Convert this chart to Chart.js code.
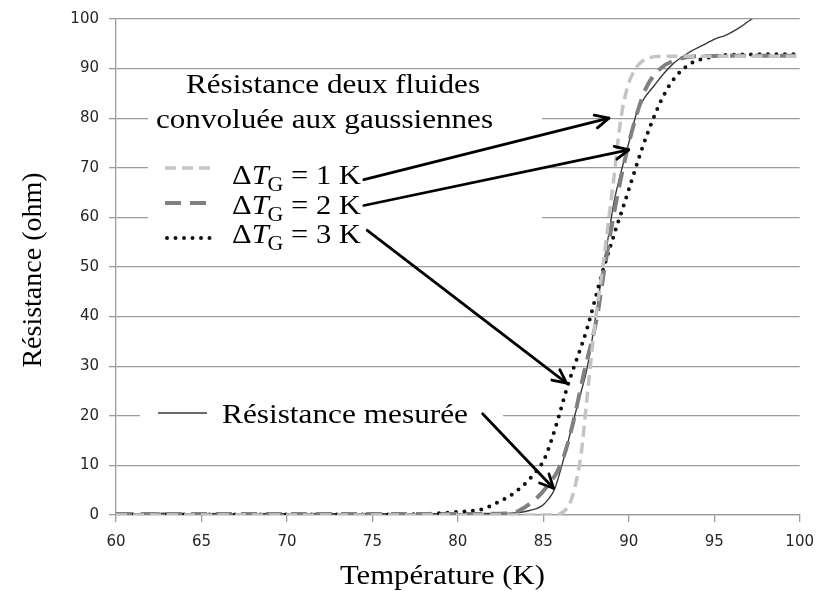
<!DOCTYPE html>
<html><head><meta charset="utf-8">
<script src="https://cdn.jsdelivr.net/npm/chart.js@4/dist/chart.umd.min.js"></script>
<style>html,body{margin:0;padding:0;background:#fff;}canvas{display:block;}</style>
</head><body>
<canvas id="c" width="825" height="598"></canvas>
<script>
// ---- data ----
const xTicks = [60, 65, 70, 75, 80, 85, 90, 95, 100];
const yTicks = [0, 10, 20, 30, 40, 50, 60, 70, 80, 90, 100];

const measTemp = [60, 61.5, 63, 64.5, 66, 67.5, 69, 70.5, 72, 73.5, 75, 76.5, 78, 79.5, 81, 82.5, 83.5, 84.2, 84.9, 85.3, 85.66, 86.07, 86.45, 86.82, 87.2, 87.57, 88.09, 88.44, 88.8, 89.13, 89.5, 90.0, 90.46, 90.9, 91.45, 92.0, 92.6, 93.5, 94.5, 95.2, 95.6, 96.5, 97.2, 98.0, 99.0, 100];
const measRes  = [0.3, 0.2, 0.35, 0.2, 0.3, 0.15, 0.3, 0.25, 0.3, 0.2, 0.3, 0.2, 0.3, 0.25, 0.3, 0.3, 0.45, 0.9, 1.8, 3.2, 5.2, 9.8, 14.8, 19.8, 24.7, 29.7, 40.5, 48.7, 56, 63, 68.5, 75, 81, 84, 86.4, 88.8, 91, 93.2, 95, 96.2, 96.6, 98.3, 100, 101.3, 102.8, 104.3];

const g1Temp = [60, 84, 85.5, 86, 86.5, 86.8, 87.2, 87.6, 88.0, 88.44, 88.84, 89.13, 89.5, 89.9, 90.4, 90.8, 91.1, 92, 100];
const g1Res  = [0, 0, 0.05, 0.3, 2, 5, 12, 25, 38, 49, 60, 68, 79, 86, 90, 91.5, 92.1, 92.5, 92.5];

const g2Temp = [60, 80, 82, 83, 83.53, 84.3, 85.09, 86.07, 86.7, 87.4, 88.15, 88.55, 89.2, 89.8, 90.4, 91, 91.85, 93, 94, 100];
const g2Res  = [0.2, 0.2, 0.25, 0.4, 0.8, 2.5, 5.2, 10.6, 18, 29, 40, 49, 62, 72, 80, 86, 90, 92, 92.5, 92.6];

const g3Temp = [60, 76, 78, 79, 79.88, 81.45, 82.37, 83.35, 84.34, 85.09, 85.7, 86.42, 87.57, 88.44, 89.25, 89.71, 91.04, 92.2, 93.35, 94.9, 96, 100];
const g3Res  = [0.1, 0.1, 0.2, 0.35, 0.6, 1.2, 2.6, 4.6, 7.8, 11.5, 17.5, 26, 37.7, 48.7, 57.7, 62.5, 76.4, 85.6, 90.4, 92.4, 92.8, 92.9];

const deltaLabels = ['1', '2', '3'];
const arrowFrom = [[74.5, 67.6], [74.5, 62.4], [74.7, 57.4], [81.45, 20.4]];
const arrowTo   = [[88.84, 80], [90.0, 73.6], [86.36, 26.6], [85.6, 5.4]];

// ---- styles ----
const SERIF = '"Liberation Serif","Times New Roman",serif';
const SANS = '"DejaVu Sans", Verdana, sans-serif';
const GRID = '#9c9c9c';
const S1 = {color: '#c4c4c4', width: 3.5, dash: [11, 6], cap: 'butt'};
const S2 = {color: '#808080', width: 4, dash: [16, 9], cap: 'butt'};
const S3 = {color: '#111111', width: 4, dash: [0, 8.5], cap: 'round'};
const SM = {color: '#3a3a3a', width: 1.4, dash: [], cap: 'butt'};

function pts(xs, ys) { return xs.map((x, i) => ({x: x, y: ys[i]})); }
function ds(label, xs, ys, s) {
  return {label, data: pts(xs, ys), showLine: true, pointRadius: 0, pointHoverRadius: 0,
    borderColor: s.color, borderWidth: s.width, borderDash: s.dash, borderCapStyle: s.cap,
    cubicInterpolationMode: 'monotone', fill: false};
}

function stretchText(ctx, text, x0, x1, y) {
  const w = ctx.measureText(text).width;
  ctx.save(); ctx.translate(x0, y); ctx.scale((x1 - x0) / w, 1);
  ctx.textAlign = 'left'; ctx.textBaseline = 'alphabetic';
  ctx.fillText(text, 0, 0); ctx.restore();
}
function drawDelta(ctx, n, x0, x1, y) {
  const big = '28px ' + SERIF, it = 'italic 28px ' + SERIF, sub = '20px ' + SERIF;
  const parts = [['Δ', big, 0], ['T', it, 0], ['G', sub, 7], [' = ' + n + ' K', big, 0]];
  let tot = 0; const ws = [];
  parts.forEach(p => { ctx.font = p[1]; const w = ctx.measureText(p[0]).width; ws.push(w); tot += w; });
  ctx.save(); ctx.translate(x0, y); ctx.scale((x1 - x0) / tot, 1);
  ctx.textBaseline = 'alphabetic'; ctx.textAlign = 'left';
  let cx = 0;
  parts.forEach((p, i) => { ctx.font = p[1]; ctx.fillText(p[0], cx, p[2]); cx += ws[i]; if (i === 1) cx -= 1; });
  ctx.restore();
}
function sample(ctx, s, x0, x1, y) {
  ctx.save(); ctx.strokeStyle = s.color; ctx.lineWidth = s.width; ctx.setLineDash(s.dash); ctx.lineCap = s.cap;
  ctx.beginPath(); ctx.moveTo(x0, y); ctx.lineTo(x1, y); ctx.stroke(); ctx.restore();
}
function arrow(ctx, x1, y1, x2, y2) {
  ctx.save(); ctx.strokeStyle = '#000'; ctx.lineWidth = 2.8; ctx.lineCap = 'round'; ctx.lineJoin = 'round';
  ctx.beginPath(); ctx.moveTo(x1, y1); ctx.lineTo(x2, y2); ctx.stroke();
  const a = Math.atan2(y2 - y1, x2 - x1), L = 15, sp = 0.45;
  ctx.beginPath();
  ctx.moveTo(x2 - L * Math.cos(a - sp), y2 - L * Math.sin(a - sp));
  ctx.lineTo(x2, y2);
  ctx.lineTo(x2 - L * Math.cos(a + sp), y2 - L * Math.sin(a + sp));
  ctx.stroke(); ctx.restore();
}

const annot = {
  id: 'annot',
  beforeDatasetsDraw(chart) {
    const ctx = chart.ctx;
    ctx.save(); ctx.fillStyle = '#fff';
    ctx.fillRect(148, 70, 394, 180);
    ctx.fillRect(140, 394, 363, 44);
    ctx.restore();
  },
  afterDraw(chart) {
    const ctx = chart.ctx, xs = chart.scales.x, ys = chart.scales.y;
    ctx.save();
    ctx.fillStyle = '#000';
    ctx.font = '28px ' + SERIF;
    stretchText(ctx, 'Résistance deux fluides', 186, 480, 93);
    stretchText(ctx, 'convoluée aux gaussiennes', 156, 493, 128);
    stretchText(ctx, 'Résistance mesurée', 222, 468, 423);
    const base = [184, 214, 243];
    deltaLabels.forEach((n, i) => drawDelta(ctx, n, 232, 362, base[i]));
    sample(ctx, S1, 165, 212, 168);
    sample(ctx, S2, 165, 214, 203);
    sample(ctx, S3, 167, 212, 238);
    sample(ctx, SM, 158, 207, 413);
    arrowFrom.forEach((f, i) => {
      const t = arrowTo[i];
      arrow(ctx, xs.getPixelForValue(f[0]), ys.getPixelForValue(f[1]), xs.getPixelForValue(t[0]), ys.getPixelForValue(t[1]));
    });
    // axis titles
    ctx.fillStyle = '#000';
    ctx.font = '28px ' + SERIF;
    stretchText(ctx, 'Température (K)', 340, 545, 584);
    ctx.textAlign = 'center'; ctx.textBaseline = 'alphabetic';
    ctx.translate(41, (chart.chartArea.top + chart.chartArea.bottom) / 2 + 3);
    ctx.rotate(-Math.PI / 2);
    ctx.fillText('Résistance (ohm)', 0, 0);
    ctx.restore();
  }
};

new Chart(document.getElementById('c'), {
  type: 'scatter',
  data: {datasets: [
    ds('ΔTG = 1 K', g1Temp, g1Res, S1),
    ds('ΔTG = 2 K', g2Temp, g2Res, S2),
    ds('ΔTG = 3 K', g3Temp, g3Res, S3),
    ds('Résistance mesurée', measTemp, measRes, SM)
  ]},
  options: {
    responsive: false, animation: false, devicePixelRatio: 1,
    layout: {padding: {left: 0, top: 15, right: 17, bottom: 0}},
    plugins: {legend: {display: false}, tooltip: {enabled: false}, title: {display: false}},
    scales: {
      x: {type: 'linear', min: 60, max: 100,
        afterBuildTicks: s => { s.ticks = xTicks.map(v => ({value: v})); },
        afterFit: s => { s.height = 83; },
        grid: {drawOnChartArea: false, drawTicks: true, tickLength: 7, color: GRID, lineWidth: 1.3},
        border: {display: true, color: GRID, width: 1.3},
        ticks: {padding: 11, color: '#262626', font: {family: SANS, size: 15}, maxRotation: 0}
      },
      y: {type: 'linear', min: 0, max: 100,
        afterBuildTicks: s => { s.ticks = yTicks.map(v => ({value: v})); },
        afterFit: s => { s.width = 116; },
        grid: {drawOnChartArea: true, drawTicks: true, tickLength: 7, color: GRID, lineWidth: 1.3},
        border: {display: true, color: GRID, width: 1.3},
        ticks: {padding: 10, color: '#262626', font: {family: SANS, size: 15}}
      }
    }
  },
  plugins: [annot]
});
</script>
</body></html>
